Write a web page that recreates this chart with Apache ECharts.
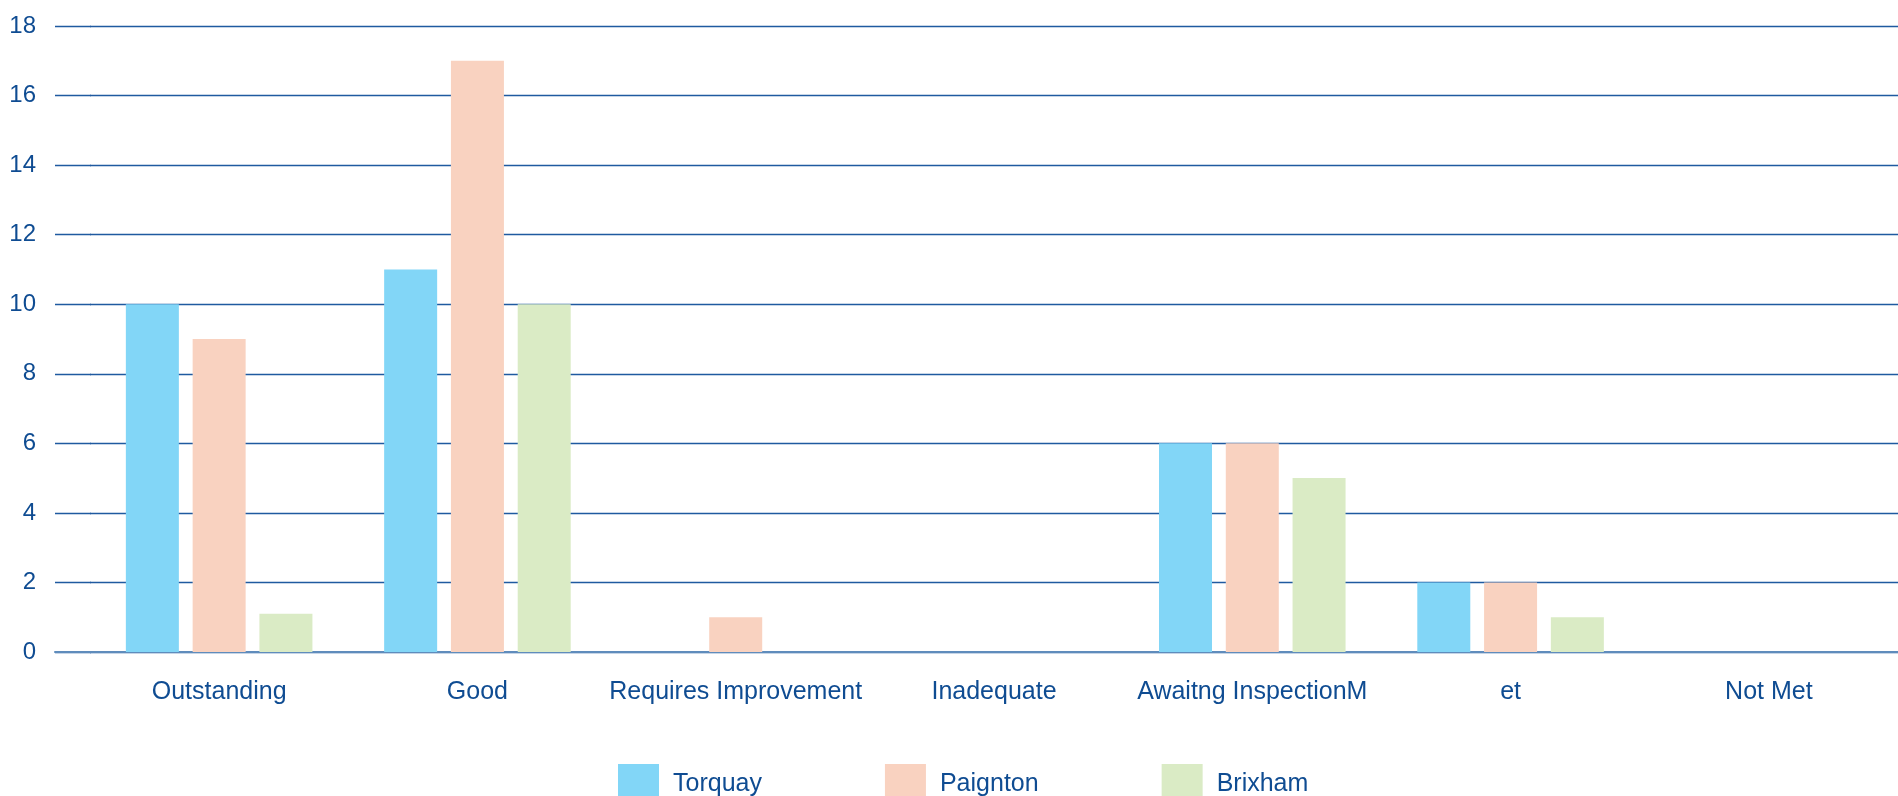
<!DOCTYPE html>
<html>
<head>
<meta charset="utf-8">
<script src="https://cdn.jsdelivr.net/npm/echarts@6/dist/echarts.min.js"></script>
<style>
html,body{margin:0;padding:0;background:#fff;}
#chart{width:1898px;height:796px;}
</style>
</head>
<body>
<div id="chart"></div>
<script>
const categories = ['Outstanding', 'Good', 'Requires Improvement', 'Inadequate', 'Awaitng InspectionM', 'et', 'Not Met'];
const torquay = [10, 11, 0, 0, 6, 2, 0];
const paignton = [9, 17, 1, 0, 6, 2, 0];
const brixham = [1.1, 10, 0, 0, 5, 1, 0];
const seriesNames = ['Torquay', 'Paignton', 'Brixham'];
const yTicks = { min: 0, max: 18, interval: 2 };

const textColor = '#0f4c92';
const gridLineColor = '#1f5aa0';
const axisLineColor = '#5f8cbc';
const fontFamily = '"Liberation Sans", Arial, Helvetica, sans-serif';
const colors = ['#82d6f7', '#f9d2c0', '#daebc5'];

const chart = echarts.init(document.getElementById('chart'), null, { renderer: 'canvas' });
const option = {
  animation: false,
  backgroundColor: '#ffffff',
  textStyle: { fontFamily: fontFamily },
  grid: [
    { left: 90, right: -16, top: 26, bottom: 144, containLabel: false },
    { left: 55, width: 36, top: 26, bottom: 144, containLabel: false }
  ],
  legend: {
    data: seriesNames,
    left: 613,
    top: 759,
    itemWidth: 41,
    itemHeight: 41,
    itemGap: 123,
    icon: 'rect',
    textStyle: { color: textColor, fontSize: 25, fontFamily: fontFamily, padding: [0, 0, 0, 9] }
  },
  xAxis: [
    {
      type: 'category',
      gridIndex: 0,
      data: categories,
      axisLine: { show: true, lineStyle: { color: axisLineColor, width: 2 } },
      axisTick: { show: false },
      axisLabel: { color: textColor, fontSize: 25, fontFamily: fontFamily, margin: 28, interval: 0 },
      splitLine: { show: false }
    },
    {
      type: 'category',
      gridIndex: 1,
      data: [''],
      axisLine: { show: true, lineStyle: { color: axisLineColor, width: 2 } },
      axisTick: { show: false },
      axisLabel: { show: false }
    }
  ],
  yAxis: [
    {
      type: 'value',
      gridIndex: 0,
      min: yTicks.min, max: yTicks.max, interval: yTicks.interval,
      axisLine: { show: false },
      axisTick: { show: false },
      axisLabel: { show: false },
      splitLine: { show: true, lineStyle: { color: gridLineColor, width: 1.3 } }
    },
    {
      type: 'value',
      gridIndex: 1,
      min: yTicks.min, max: yTicks.max, interval: yTicks.interval,
      axisLine: { show: false },
      axisTick: { show: false },
      axisLabel: { color: textColor, fontSize: 24, fontFamily: fontFamily, margin: 19 },
      splitLine: { show: true, lineStyle: { color: gridLineColor, width: 1.3 } }
    }
  ],
  series: [
    { name: seriesNames[0], type: 'bar', xAxisIndex: 0, yAxisIndex: 0, data: torquay, barWidth: 53, barGap: '26%', itemStyle: { color: colors[0] } },
    { name: seriesNames[1], type: 'bar', xAxisIndex: 0, yAxisIndex: 0, data: paignton, barWidth: 53, barGap: '26%', itemStyle: { color: colors[1] } },
    { name: seriesNames[2], type: 'bar', xAxisIndex: 0, yAxisIndex: 0, data: brixham, barWidth: 53, barGap: '26%', itemStyle: { color: colors[2] } }
  ]
};
chart.setOption(option);
</script>
</body>
</html>
